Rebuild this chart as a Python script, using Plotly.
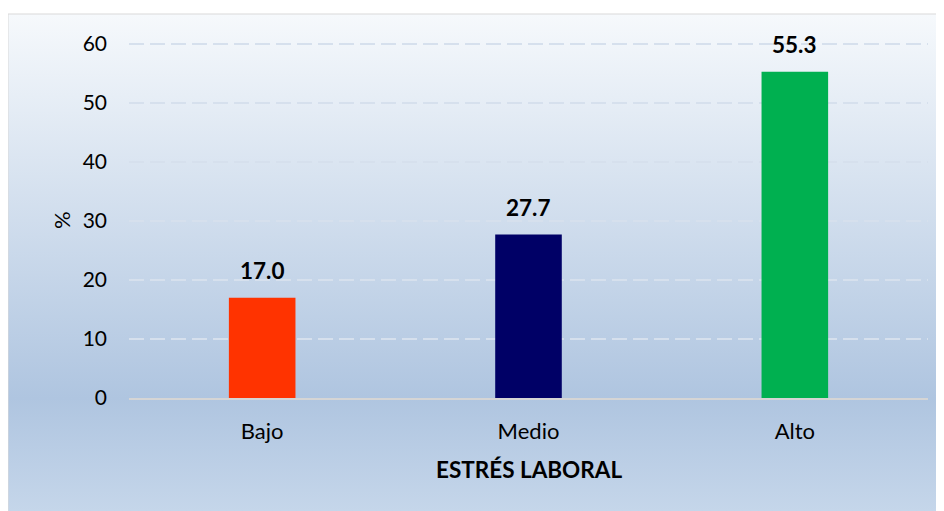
import base64
import plotly.graph_objects as go

categories = ["Bajo", "Medio", "Alto"]
values = [17.0, 27.7, 55.3]
bar_colors = ["#FF3300", "#000066", "#00B050"]
y_ticks = [0, 10, 20, 30, 40, 50, 60]
x_title = "ESTRÉS LABORAL"
y_title = "%"

OFF = 8  # default page body margin
Y_MAX = 61
W, H = 944 - OFF, 511 - OFF
ML = 129 - OFF
MT = 30
MB = H - (398 - OFF)
MR = W - (928 - OFF)
PW, PH = W - ML - MR, H - MT - MB

def px_x(p):
    return (p - OFF - ML) / PW

def px_y(p):
    return (H - MB - (p - OFF)) / PH

FONT = "Lato, 'Open Sans', sans-serif"

svg = (
    '<svg xmlns="http://www.w3.org/2000/svg" width="100" height="100" viewBox="0 0 100 100" preserveAspectRatio="none">'
    '<defs><linearGradient id="g" x1="0" y1="0" x2="0" y2="1">'
    '<stop offset="0" stop-color="#F6F9FC"/>'
    '<stop offset="0.773" stop-color="#AFC5E0"/>'
    '<stop offset="1" stop-color="#C5D6EA"/>'
    '</linearGradient></defs>'
    '<rect x="0" y="0" width="100" height="100" fill="url(#g)"/></svg>'
)
src = "data:image/svg+xml;base64," + base64.b64encode(svg.encode()).decode()

fig = go.Figure()
fig.add_trace(go.Bar(
    x=categories, y=values, marker=dict(color=bar_colors, line=dict(width=0)),
    width=0.25, hoverinfo="skip",
))

for c, v in zip(categories, values):
    fig.add_annotation(
        x=c, y=v, text=f"<b>{v:.1f}</b>", showarrow=False,
        yanchor="bottom", yshift=12,
        font=dict(family=FONT, size=22.5, color="#000000"),
    )

bx0, by0, bx1, by1 = 8, 14, 940, 511
fig.add_layout_image(
    source=src, xref="paper", yref="paper",
    x=px_x(bx0), y=px_y(by0), sizex=px_x(bx1) - px_x(bx0), sizey=px_y(by0) - px_y(by1),
    xanchor="left", yanchor="top", sizing="stretch", layer="below",
)
fig.add_shape(
    type="rect", xref="paper", yref="paper",
    x0=px_x(bx0), y0=px_y(by1 + 20), x1=px_x(bx1), y1=px_y(by0),
    line=dict(color="#D9D9D9", width=1), fillcolor="rgba(0,0,0,0)", layer="below",
)

fig.add_annotation(
    xref="paper", yref="paper", x=0.5, y=px_y(469), text=f"<b>{x_title}</b>",
    showarrow=False, xanchor="center", yanchor="middle",
    font=dict(family=FONT, size=22.5, color="#000000"),
)
fig.add_annotation(
    xref="paper", yref="paper", x=px_x(61), y=px_y(220), text=y_title,
    showarrow=False, textangle=-90, xanchor="center", yanchor="middle",
    font=dict(family=FONT, size=22, color="#000000"),
)

fig.update_layout(
    width=W, height=H,
    margin=dict(l=ML, r=MR, t=MT, b=MB),
    paper_bgcolor="#FFFFFF", plot_bgcolor="rgba(0,0,0,0)",
    showlegend=False, bargap=0.75,
    font=dict(family=FONT, size=21, color="#000000"),
)
fig.update_xaxes(
    showline=True, linecolor="#D5D5D5", linewidth=2, showgrid=False,
    ticks="", ticklabelstandoff=13,
    tickfont=dict(family=FONT, size=22, color="#000000"),
)
fig.update_yaxes(
    range=[0, Y_MAX], tickvals=y_ticks, showline=False, zeroline=False,
    showgrid=True, gridcolor="#D6E0ED", gridwidth=1.5, griddash="15px,6px",
    ticks="", ticklabelstandoff=21,
    tickfont=dict(family=FONT, size=21, color="#000000"),
)

fig.write_html("out.html")
